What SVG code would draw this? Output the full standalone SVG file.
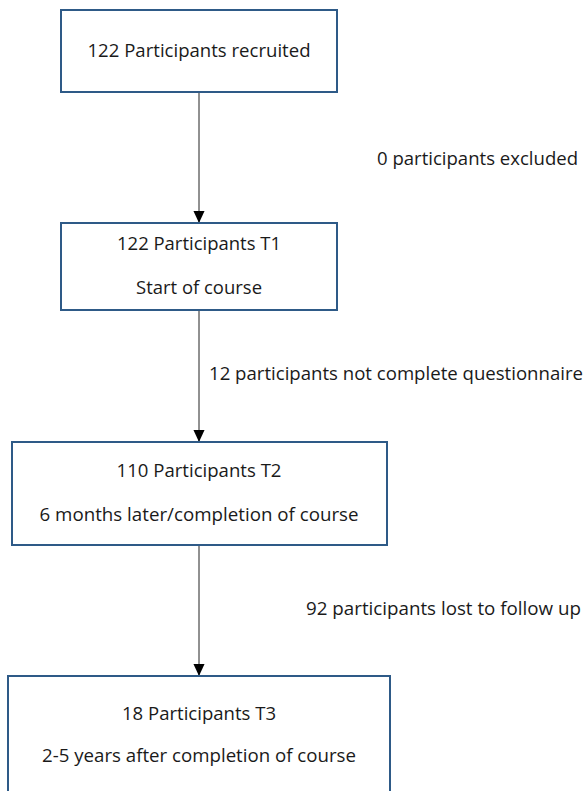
<svg xmlns="http://www.w3.org/2000/svg" width="586" height="791" viewBox="0 0 586 791">
<defs>
<marker id="ah" markerWidth="12" markerHeight="13" refX="13" refY="6" orient="auto" markerUnits="userSpaceOnUse" viewBox="0 0 13 12">
<path d="M0,0 L13,6 L0,12 Z" fill="#000"/>
</marker>
<style>
.box{fill:#fff;stroke:#2e5a87;stroke-width:2}
.t{font-family:"Open Sans","Liberation Sans",sans-serif;font-size:18px;fill:#1a1a1a}
.c{text-anchor:middle}
.ln{stroke:#222;stroke-width:1;fill:none;marker-end:url(#ah)}
</style>
</defs>
<rect width="586" height="791" fill="#fff"/>
<g id="connectors">
<line class="ln" x1="199" y1="92" x2="199" y2="223"/>
<line class="ln" x1="199" y1="310" x2="199" y2="442"/>
<line class="ln" x1="199" y1="545" x2="199" y2="676"/>
<text class="t" x="377" y="165" textLength="201" lengthAdjust="spacingAndGlyphs">0 participants excluded</text>
<text class="t" x="209" y="380" textLength="374" lengthAdjust="spacingAndGlyphs">12 participants not complete questionnaire</text>
<text class="t" x="306" y="615" textLength="275" lengthAdjust="spacingAndGlyphs">92 participants lost to follow up</text>
</g>
<g id="n1">
<rect class="box" x="61" y="10" width="276" height="82"/>
<text class="t c" x="199" y="57" textLength="223" lengthAdjust="spacingAndGlyphs">122 Participants recruited</text>
</g>
<g id="n2">
<rect class="box" x="61" y="223" width="276" height="87"/>
<text class="t c" x="199" y="250" textLength="164" lengthAdjust="spacingAndGlyphs">122 Participants T1</text>
<text class="t c" x="199" y="294" textLength="126" lengthAdjust="spacingAndGlyphs">Start of course</text>
</g>
<g id="n3">
<rect class="box" x="12" y="442" width="375" height="103"/>
<text class="t c" x="199" y="477" textLength="165" lengthAdjust="spacingAndGlyphs">110 Participants T2</text>
<text class="t c" x="199" y="521" textLength="319" lengthAdjust="spacingAndGlyphs">6 months later/completion of course</text>
</g>
<g id="n4">
<rect class="box" x="8" y="676" width="382" height="130"/>
<text class="t c" x="199" y="720" textLength="154" lengthAdjust="spacingAndGlyphs">18 Participants T3</text>
<text class="t c" x="199" y="762" textLength="314" lengthAdjust="spacingAndGlyphs">2-5 years after completion of course</text>
</g>
</svg>
